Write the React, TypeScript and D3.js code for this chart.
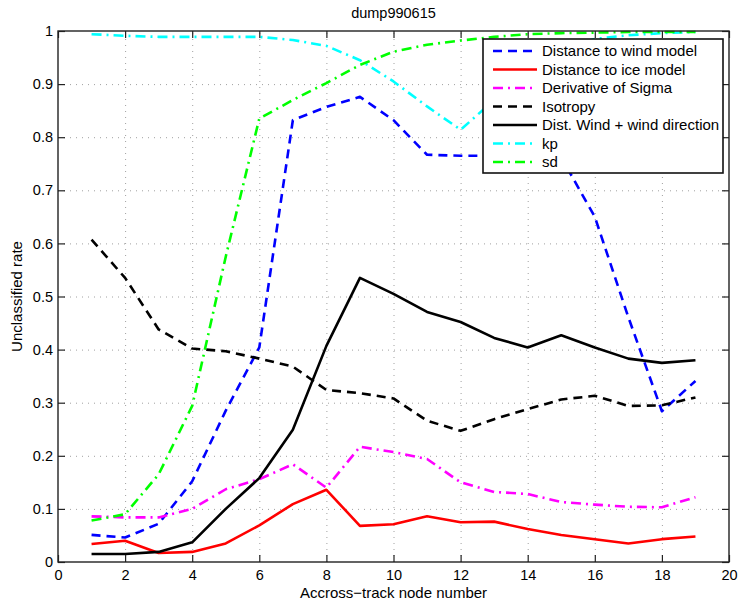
import { useEffect, useRef } from 'react';
import * as d3 from 'd3';

// across-track node index
const nodes = [1, 2, 3, 4, 5, 6, 7, 8, 9, 10, 11, 12, 13, 14, 15, 16, 17, 18, 19];

const windModel = [0.051, 0.046, 0.072, 0.152, 0.285, 0.404, 0.832, 0.857, 0.876, 0.832, 0.767, 0.765, 0.765, 0.765, 0.762, 0.650, 0.461, 0.284, 0.341];
const iceModel = [0.034, 0.040, 0.017, 0.019, 0.035, 0.069, 0.109, 0.136, 0.068, 0.071, 0.086, 0.075, 0.076, 0.062, 0.051, 0.043, 0.035, 0.043, 0.048];
const sigmaDeriv = [0.086, 0.084, 0.084, 0.100, 0.137, 0.156, 0.184, 0.140, 0.217, 0.207, 0.194, 0.150, 0.132, 0.128, 0.113, 0.108, 0.104, 0.103, 0.122];
const isotropy = [0.607, 0.535, 0.438, 0.402, 0.397, 0.383, 0.368, 0.324, 0.318, 0.308, 0.266, 0.247, 0.269, 0.288, 0.306, 0.313, 0.294, 0.295, 0.310];
const windDir = [0.015, 0.015, 0.019, 0.037, 0.100, 0.158, 0.249, 0.407, 0.535, 0.505, 0.471, 0.452, 0.422, 0.404, 0.427, 0.404, 0.383, 0.375, 0.380];
const kp = [0.994, 0.991, 0.989, 0.989, 0.989, 0.989, 0.983, 0.972, 0.945, 0.905, 0.858, 0.814, 0.870, 0.935, 0.968, 0.985, 0.992, 0.996, 0.998];
const sd = [0.078, 0.090, 0.165, 0.294, 0.575, 0.835, 0.870, 0.902, 0.936, 0.961, 0.974, 0.982, 0.989, 0.994, 0.996, 0.997, 0.998, 0.998, 0.998];

const xTicks = [0, 2, 4, 6, 8, 10, 12, 14, 16, 18, 20];
const yTicks = [0, 0.1, 0.2, 0.3, 0.4, 0.5, 0.6, 0.7, 0.8, 0.9, 1];

const series = [
  { name: 'Distance to wind model', values: windModel, color: '#0000ff', dash: '9,6' },
  { name: 'Distance to ice model', values: iceModel, color: '#ff0000', dash: 'none' },
  { name: 'Derivative of Sigma', values: sigmaDeriv, color: '#ff00ff', dash: '10,5,2,5' },
  { name: 'Isotropy', values: isotropy, color: '#000000', dash: '9,6' },
  { name: 'Dist. Wind + wind direction', values: windDir, color: '#000000', dash: 'none' },
  { name: 'kp', values: kp, color: '#00ffff', dash: '10,5,2,5' },
  { name: 'sd', values: sd, color: '#00ff00', dash: '10,5,2,5' },
];

const W = 739;
const H = 602;
const FONT = '"Liberation Sans", Arial, Helvetica, sans-serif';

export default function App() {
  const svgRef = useRef<SVGSVGElement>(null);

  useEffect(() => {
    const svg = d3.select(svgRef.current);
    svg.selectAll('*').remove();

    const margin = { top: 31, right: 10, bottom: 40, left: 58 };
    const width = W - margin.left - margin.right;
    const height = H - margin.top - margin.bottom;

    const x = d3.scaleLinear().domain([0, 20]).range([0, width]);
    const y = d3.scaleLinear().domain([0, 1]).range([height, 0]);

    svg.append('rect').attr('width', W).attr('height', H).attr('fill', '#fff');

    const g = svg.append('g').attr('transform', `translate(${margin.left},${margin.top})`);

    // dotted grid
    g.append('g')
      .attr('transform', `translate(0,${height})`)
      .call(d3.axisBottom(x).tickValues(xTicks.slice(1, -1)).tickSize(-height).tickFormat(() => ''))
      .call(s => s.select('.domain').remove())
      .selectAll('line')
      .attr('stroke', '#a0a0a0')
      .attr('stroke-dasharray', '1,5');

    g.append('g')
      .call(d3.axisLeft(y).tickValues(yTicks.slice(1, -1)).tickSize(-width).tickFormat(() => ''))
      .call(s => s.select('.domain').remove())
      .selectAll('line')
      .attr('stroke', '#a0a0a0')
      .attr('stroke-dasharray', '1,5');

    // data lines
    const line = d3.line<number>()
      .x((_, i) => x(nodes[i]))
      .y(d => y(d));

    series.forEach(s => {
      g.append('path')
        .datum(s.values)
        .attr('fill', 'none')
        .attr('stroke', s.color)
        .attr('stroke-width', 2.6)
        .attr('stroke-dasharray', s.dash)
        .attr('stroke-linejoin', 'round')
        .attr('d', line);
    });

    // axes box with inward ticks
    const tickLen = 7;
    const axisStyle = (sel: any) => {
      sel.select('.domain').remove();
      sel.selectAll('line').attr('stroke', '#222').attr('stroke-width', 1.2);
      sel.selectAll('text').style('font-family', FONT).style('font-size', '14.5px').attr('fill', '#000');
    };

    g.append('g')
      .attr('transform', `translate(0,${height})`)
      .call(d3.axisBottom(x).tickValues(xTicks).tickSizeInner(-tickLen).tickPadding(8).tickFormat(d3.format('d')))
      .call(axisStyle);

    g.append('g')
      .call(d3.axisTop(x).tickValues(xTicks).tickSizeInner(-tickLen).tickFormat(() => ''))
      .call(axisStyle);

    g.append('g')
      .call(d3.axisLeft(y).tickValues(yTicks).tickSizeInner(-tickLen).tickPadding(5).tickFormat(d => String(+(+d).toFixed(1))))
      .call(axisStyle);

    g.append('g')
      .attr('transform', `translate(${width},0)`)
      .call(d3.axisRight(y).tickValues(yTicks).tickSizeInner(-tickLen).tickFormat(() => ''))
      .call(axisStyle);

    g.append('rect')
      .attr('width', width)
      .attr('height', height)
      .attr('fill', 'none')
      .attr('stroke', '#222')
      .attr('stroke-width', 1.4);

    // legend
    const lx = 483 - margin.left;
    const ly = 39 - margin.top;
    const lw = 240;
    const lh = 134;
    const legend = g.append('g').attr('transform', `translate(${lx},${ly})`);
    legend.append('rect')
      .attr('width', lw)
      .attr('height', lh)
      .attr('fill', '#fff')
      .attr('stroke', '#111')
      .attr('stroke-width', 1.6);

    series.forEach((s, i) => {
      const cy = 12 + i * 18.5;
      legend.append('line')
        .attr('x1', 10)
        .attr('x2', 54)
        .attr('y1', cy)
        .attr('y2', cy)
        .attr('stroke', s.color)
        .attr('stroke-width', 2.6)
        .attr('stroke-dasharray', s.dash);
      legend.append('text')
        .attr('x', 59)
        .attr('y', cy + 5)
        .style('font-family', FONT)
        .style('font-size', '15px')
        .attr('fill', '#000')
        .text(s.name);
    });

    // title and labels
    svg.append('text')
      .attr('x', margin.left + width / 2)
      .attr('y', 18)
      .attr('text-anchor', 'middle')
      .style('font-family', FONT)
      .style('font-size', '14.5px')
      .text('dump990615');

    svg.append('text')
      .attr('x', margin.left + width / 2)
      .attr('y', 598)
      .attr('text-anchor', 'middle')
      .style('font-family', FONT)
      .style('font-size', '15px')
      .text('Accross\u2212track node number');

    svg.append('text')
      .attr('transform', `translate(22,${margin.top + height / 2}) rotate(-90)`)
      .attr('text-anchor', 'middle')
      .style('font-family', FONT)
      .style('font-size', '15px')
      .text('Unclassified rate');
  }, []);

  return (
    <svg
      ref={svgRef}
      width={W}
      height={H}
      style={{ position: 'absolute', left: 0, top: 0, display: 'block' }}
    />
  );
}
